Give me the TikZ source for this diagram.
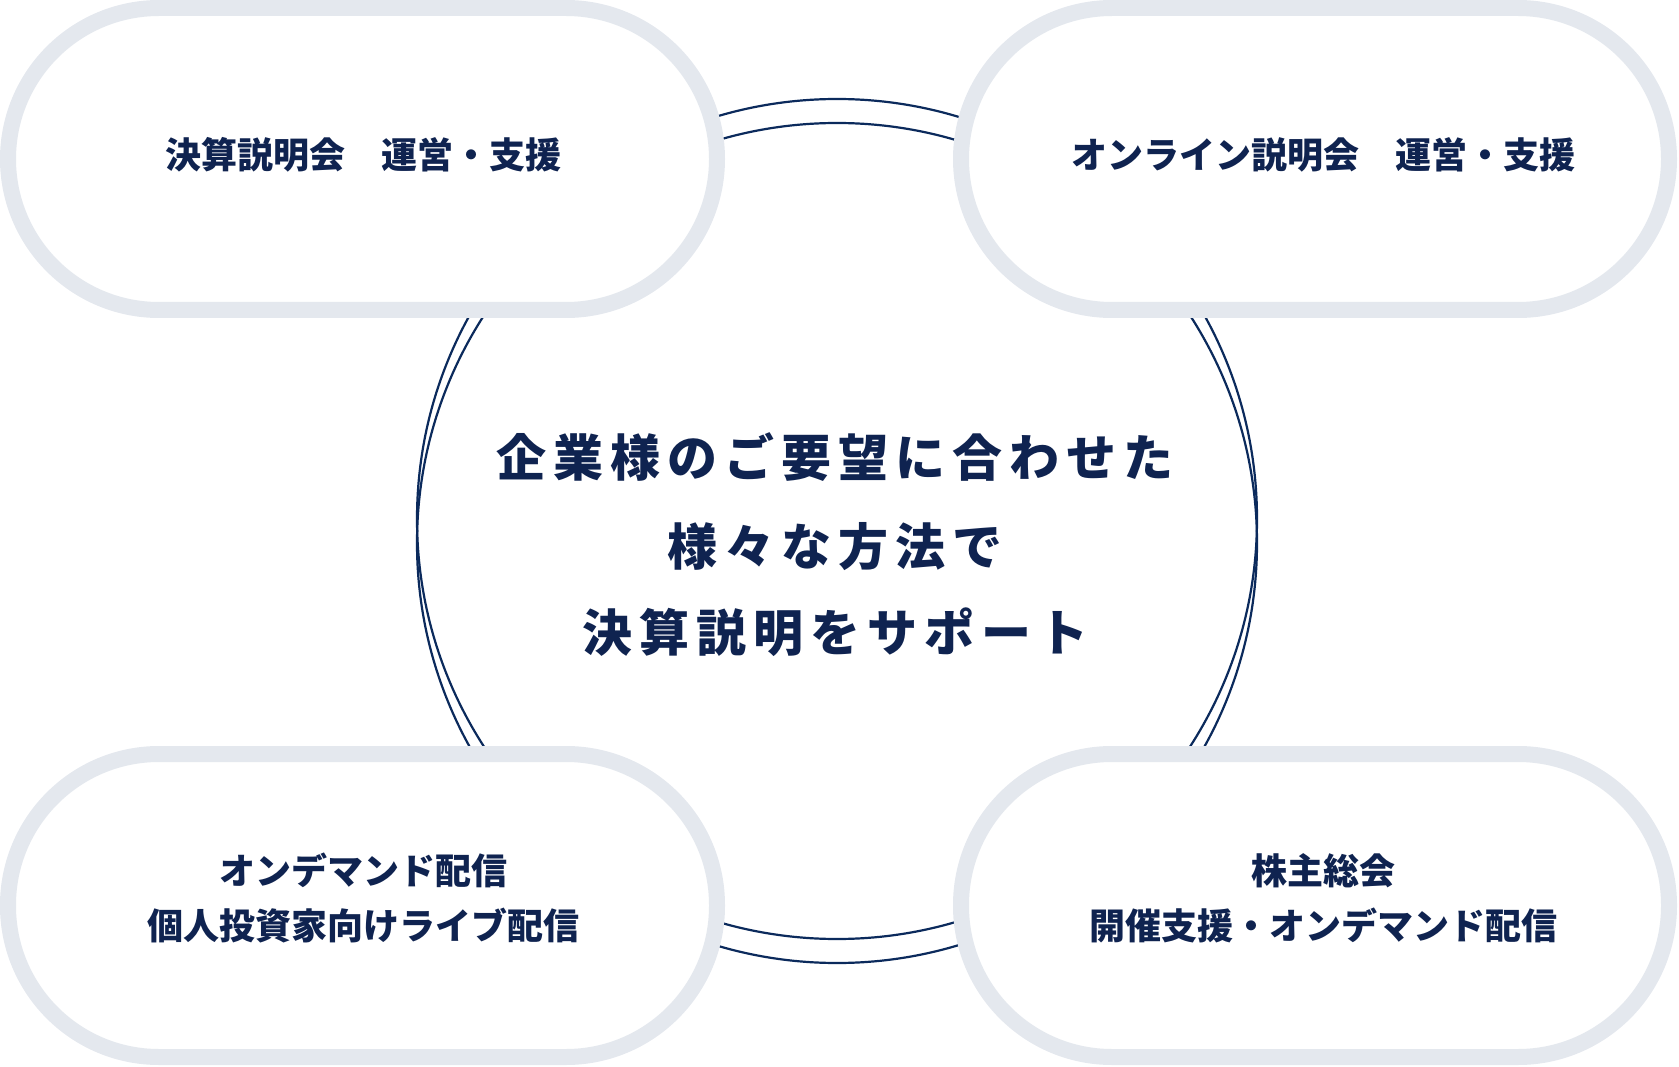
\documentclass[tikz,border=0pt]{standalone}
\usepackage{fontspec}
\newfontfamily\jp{Noto Sans CJK JP}
\newfontfamily\jpwide{Noto Sans CJK JP}[LetterSpace=14]
\definecolor{pillgray}{HTML}{E4E8EE}
\definecolor{navy}{HTML}{0F2350}
\definecolor{ringblue}{HTML}{0B2A5C}
\tikzset{
  pill/.style={draw=pillgray, line width=16pt, fill=white, rounded corners=151pt},
  ring/.style={draw=ringblue, line width=2.2pt},
  label/.style={text=navy, font=\jp\bfseries\fontsize{36pt}{44pt}\selectfont, anchor=base, inner sep=0pt},
  bigtext/.style={text=navy, font=\jpwide\bfseries\fontsize{50pt}{60pt}\selectfont, anchor=base, inner sep=0pt}
}
\begin{document}
\begin{tikzpicture}[x=1pt,y=-1pt]
\useasboundingbox (0,0) rectangle (1679,1067);
% rings
\draw[ring] (837,519) circle[radius=420];
\draw[ring] (837,543) circle[radius=420];
% pills
\draw[pill] (8,8) rectangle (717,310);
\draw[pill] (961,8) rectangle (1669,310);
\draw[pill] (8,754) rectangle (717,1057);
\draw[pill] (961,754) rectangle (1669,1057);
% pill labels
\node[label] (tl) at (363,169) {決算説明会　運営・支援};
\node[label] (tr) at (1323,169) {オンライン説明会　運営・支援};
\node[label] (bl1) at (363,884) {オンデマンド配信};
\node[label] (bl2) at (363,939) {個人投資家向けライブ配信};
\node[label] (br1) at (1323,884) {株主総会};
\node[label] (br2) at (1323,939) {開催支援・オンデマンド配信};
% center text
\node[bigtext] (c1) at (835,476) {企業様のご要望に合わせた};
\node[bigtext] (c2) at (835,565) {様々な方法で};
\node[bigtext] (c3) at (835,651) {決算説明をサポート};
\end{tikzpicture}
\end{document}
